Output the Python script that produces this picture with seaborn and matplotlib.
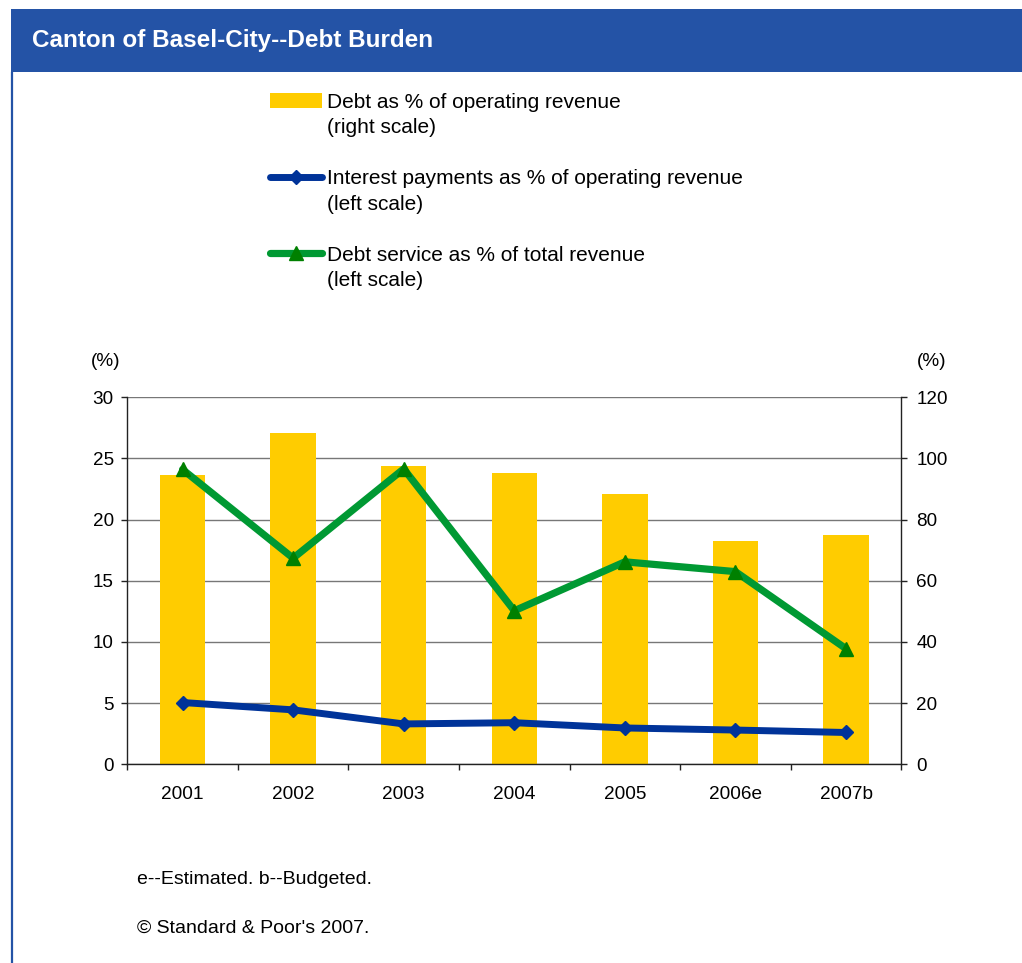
import numpy as np
import matplotlib
matplotlib.use("Agg")
import matplotlib.pyplot as plt
from matplotlib.patches import Rectangle, Patch
from matplotlib.lines import Line2D
import seaborn as sns

# ---- data ----
years = ["2001", "2002", "2003", "2004", "2005", "2006e", "2007b"]
debt_pct_operating = [94.6, 108.3, 97.5, 95.3, 88.4, 73.0, 75.0]      # right scale
interest_pct_operating = [5.05, 4.45, 3.3, 3.4, 2.97, 2.8, 2.6]       # left scale
debt_service_pct_total = [24.1, 16.85, 24.15, 12.55, 16.55, 15.75, 9.45]  # left scale

left_ticks = [0, 5, 10, 15, 20, 25, 30]
right_ticks = [0, 20, 40, 60, 80, 100, 120]

title = "Canton of Basel-City--Debt Burden"
legend_labels = ["Debt as % of operating revenue", "(right scale)", " ",
                 "Interest payments as % of operating revenue", "(left scale)", " ",
                 "Debt service as % of total revenue", "(left scale)"]
footnote1 = "e--Estimated. b--Budgeted."
footnote2 = "\u00a9 Standard & Poor's 2007."

YELLOW = "#FFCC00"
BLUE = "#003399"
GREEN = "#009933"
DKGREEN = "#008000"
BAR_BLUE = "#2453A6"

sns.set_style("white")
plt.rcParams["font.family"] = ["Liberation Sans", "DejaVu Sans"]
plt.rcParams["text.color"] = "black"
plt.rcParams["xtick.color"] = "black"
plt.rcParams["ytick.color"] = "black"
plt.rcParams["xtick.labelcolor"] = "black"
plt.rcParams["ytick.labelcolor"] = "black"

W, H = 1022, 963
fig = plt.figure(figsize=(W / 100, H / 100), dpi=100)
fig.patch.set_facecolor("white")

# title bar and left border
fig.patches.append(Rectangle((11 / W, 1 - 72.3 / H), 1 - 11 / W, 63 / H,
                             transform=fig.transFigure, facecolor=BAR_BLUE,
                             edgecolor="none", zorder=0))
fig.lines.append(Line2D([11.7 / W, 11.7 / W], [0, 1 - 72 / H], transform=fig.transFigure,
                        color=BAR_BLUE, lw=1.6))
fig.text(32 / W, 1 - 41 / H, title, color="white", fontsize=17.5, fontweight="bold",
         ha="left", va="center")

# axes
ax = fig.add_axes([127.3 / W, 1 - 764.3 / H, 774 / W, 367 / H])
ax2 = ax.twinx()

sns.barplot(x=years, y=debt_pct_operating, ax=ax2, color=YELLOW, saturation=1,
            width=0.41, linewidth=0, edgecolor="none", zorder=2)

sns.pointplot(x=years, y=interest_pct_operating, ax=ax, color=BLUE, markers="D",
              linestyles="-", errorbar=None, linewidth=5, markersize=7.5,
              markeredgewidth=1, markerfacecolor=BLUE, markeredgecolor=BLUE)
sns.pointplot(x=years, y=debt_service_pct_total, ax=ax, color=GREEN, markers="^",
              linestyles="-", errorbar=None, linewidth=5.2, markersize=9.5,
              markeredgewidth=1, markerfacecolor=DKGREEN, markeredgecolor=DKGREEN)

ax.set_zorder(ax2.get_zorder() + 1)
ax.patch.set_visible(False)

n = len(years)
ax.set_xlim(-0.5, n - 0.5)
ax.set_ylim(0, 30)
ax.set_yticks(left_ticks)
ax2.set_ylim(0, 120)
ax2.set_yticks(right_ticks)

ax.set_xlabel("")
ax.set_ylabel("")
ax2.set_xlabel("")
ax2.set_ylabel("")

# grid on the bar axis, behind bars
ax2.set_axisbelow(True)
ax2.yaxis.grid(True, color="#777777", linewidth=1)
ax2.xaxis.grid(False)
ax.grid(False)

for s in ["top", "right", "bottom"]:
    ax.spines[s].set_visible(False)
ax.spines["left"].set_color("#222222")
ax.spines["left"].set_linewidth(1)
ax2.spines["top"].set_visible(False)
ax2.spines["left"].set_visible(False)
ax2.spines["right"].set_color("#222222")
ax2.spines["right"].set_linewidth(1)
ax2.spines["bottom"].set_color("#222222")
ax2.spines["bottom"].set_linewidth(1)

ax.tick_params(axis="y", which="major", direction="out", length=4.3, width=1,
               color="#222222", labelsize=13.6, pad=5.5, left=True, labelcolor="black")
ax2.tick_params(axis="y", which="major", direction="out", length=4.3, width=1,
                color="#222222", labelsize=13.6, pad=6.5, right=True, labelcolor="black")

ax.set_xticks(np.arange(n))
ax.set_xticklabels(years)
ax.set_xticks(np.arange(-0.5, n, 1.0), minor=True)
ax.tick_params(axis="x", which="major", length=0, labelsize=13.7, pad=15.5,
               labelcolor="black")
ax.tick_params(axis="x", which="minor", direction="out", length=4.3, width=1,
               color="#222222", bottom=True)

# unit labels
fig.text(105.5 / W, 1 - 361 / H, "(%)", fontsize=13.6, ha="center", va="center")
fig.text(932 / W, 1 - 361 / H, "(%)", fontsize=13.6, ha="center", va="center")

# legend
blank = Line2D([], [], color="none")
handles = [Patch(facecolor=YELLOW, edgecolor="none"), blank, blank,
           Line2D([], [], color=BLUE, lw=5, marker="D", markersize=7.5,
                  markerfacecolor=BLUE, markeredgecolor=BLUE, solid_capstyle="round"),
           blank, blank,
           Line2D([], [], color=GREEN, lw=5.2, marker="^", markersize=9.5,
                  markerfacecolor=DKGREEN, markeredgecolor=DKGREEN, solid_capstyle="round"),
           blank]
fig.legend(handles, legend_labels, loc="upper left",
           bbox_to_anchor=(270 / W, 1 - 93 / H), frameon=False, fontsize=15,
           handlelength=2.5, handletextpad=0.22, labelspacing=0.31,
           borderpad=0, borderaxespad=0)

# footnotes
fig.text(137 / W, 1 - 879.5 / H, footnote1, fontsize=14, ha="left", va="center")
fig.text(137 / W, 1 - 928 / H, footnote2, fontsize=14, ha="left", va="center")

fig.savefig("out.png", dpi=100, facecolor="white")
